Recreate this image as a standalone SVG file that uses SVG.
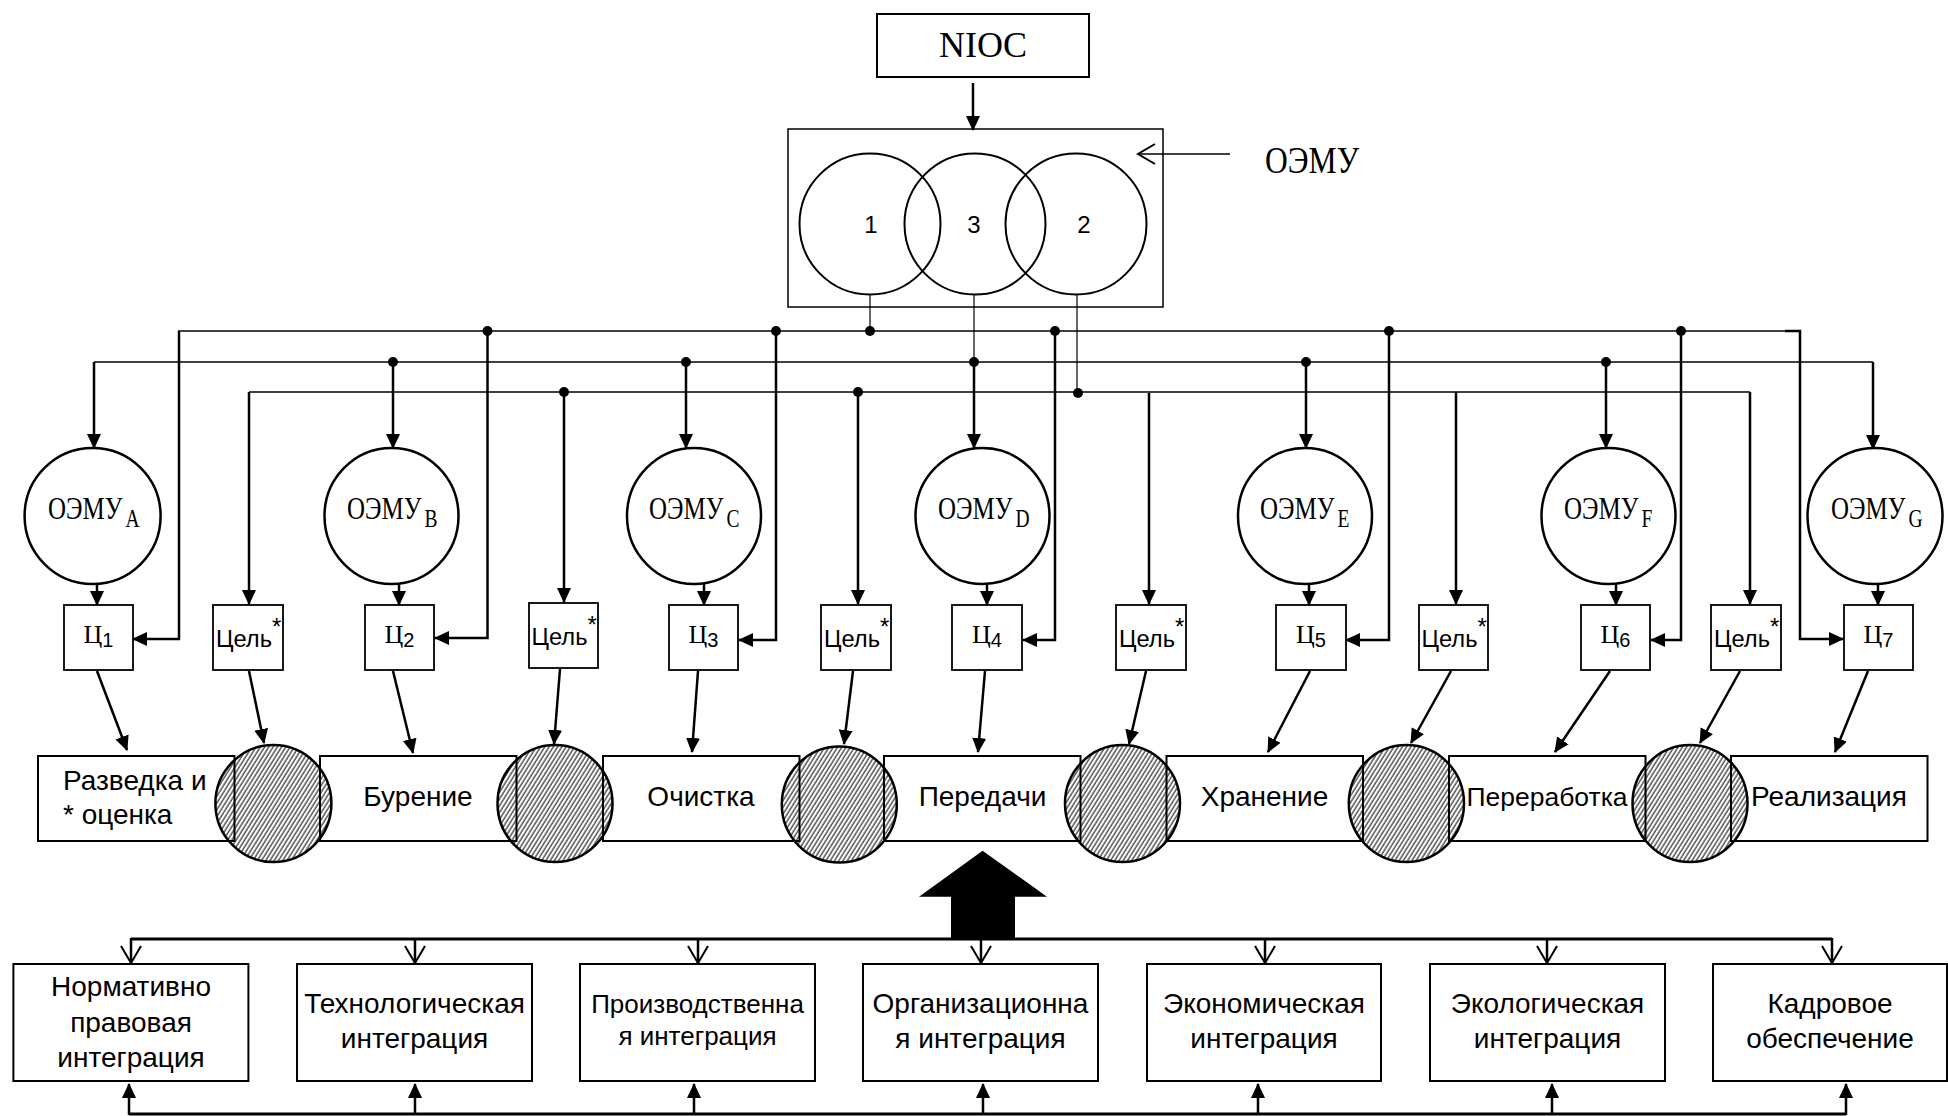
<svg xmlns="http://www.w3.org/2000/svg" width="1948" height="1116" viewBox="0 0 1948 1116">
<style>
.box{fill:#fff;stroke:#000;stroke-width:2}
.sbox{fill:#fff;stroke:#000;stroke-width:1.8}
.hair{fill:none;stroke:#000;stroke-width:1.2}
.thin{fill:none;stroke:#000;stroke-width:1.5}
.thk{fill:none;stroke:#000;stroke-width:2.5}
.bus{fill:none;stroke:#000;stroke-width:3}
.arr{marker-end:url(#ah)}
.varr{marker-end:url(#av)}
.serif{font-family:"Liberation Serif","Times New Roman",serif;fill:#000}
.sans{font-family:"Liberation Sans",Arial,sans-serif;fill:#000}
.dot{fill:#000}
.circ{fill:#fff;stroke:#000;stroke-width:2.5}
.hat{fill:url(#hatch);stroke:#000;stroke-width:2.5}
.oe{font-size:32px}
.sub{font-size:25px}
.c{font-size:26px}
.cs{font-size:20px;font-family:"Liberation Sans",Arial,sans-serif}
.cel{font-size:24px}
.ast{font-size:24px}
.st{font-size:28px}
.bt{font-size:28px}
</style>
<defs>
<marker id="ah" markerUnits="userSpaceOnUse" markerWidth="18" markerHeight="16" refX="14" refY="7" orient="auto"><path d="M0,0 L15,7 L0,14 Z" fill="#000"/></marker>
<marker id="av" markerUnits="userSpaceOnUse" markerWidth="22" markerHeight="24" refX="18" refY="11" orient="auto"><path d="M1,1 L18,11 L1,21" fill="none" stroke="#000" stroke-width="2"/></marker>
<pattern id="hatch" patternUnits="userSpaceOnUse" width="3.6" height="3.6" patternTransform="rotate(32)"><line x1="1" y1="-1" x2="1" y2="5" stroke="#000" stroke-width="1"/></pattern>
</defs>
<rect width="1948" height="1116" fill="#fff"/>

<g id="connectors">
  <path class="thk arr" d="M973,83 V130"/>
  <path class="thin varr" d="M1230,154 H1138"/>
  <path class="hair" d="M870,294 V331"/>
  <path class="hair" d="M974,294 V362"/>
  <path class="hair" d="M1077,294 V392"/>
  <path class="thin" d="M178,331 H1800"/>
  <path class="thin" d="M94,362 H1873"/>
  <path class="thin" d="M249,392 H1750"/>
  <path class="thk arr" d="M179,331 V639 H133"/>
  <path class="thk arr" d="M487.5,331 V638 H435"/>
  <path class="thk arr" d="M776,331 V640 H739"/>
  <path class="thk arr" d="M1055,331 V640 H1023"/>
  <path class="thk arr" d="M1389,331 V640 H1346"/>
  <path class="thk arr" d="M1681,331 V640 H1651"/>
  <path class="thk arr" d="M1785,331 H1800 V639 H1843"/>
  <path class="thk arr" d="M94,362 V448"/>
  <path class="thk arr" d="M393,362 V448"/>
  <path class="thk arr" d="M686,362 V448"/>
  <path class="thk arr" d="M974,362 V448"/>
  <path class="thk arr" d="M1306,362 V448"/>
  <path class="thk arr" d="M1606,362 V448"/>
  <path class="thk arr" d="M1873,362 V449"/>
  <path class="thk arr" d="M249,392 V604"/>
  <path class="thk arr" d="M564,392 V602"/>
  <path class="thk arr" d="M858,392 V604"/>
  <path class="thk arr" d="M1149,393 V604"/>
  <path class="thk arr" d="M1456,392 V604"/>
  <path class="thk arr" d="M1750,392 V604"/>
  <circle class="dot" cx="487.5" cy="331" r="5"/>
  <circle class="dot" cx="776" cy="331" r="5"/>
  <circle class="dot" cx="870" cy="331" r="5"/>
  <circle class="dot" cx="1055" cy="331" r="5"/>
  <circle class="dot" cx="1389" cy="331" r="5"/>
  <circle class="dot" cx="1681" cy="331" r="5"/>
  <circle class="dot" cx="393" cy="362" r="5"/>
  <circle class="dot" cx="686" cy="362" r="5"/>
  <circle class="dot" cx="974" cy="362" r="5"/>
  <circle class="dot" cx="1306" cy="362" r="5"/>
  <circle class="dot" cx="1606" cy="362" r="5"/>
  <circle class="dot" cx="564" cy="392" r="5"/>
  <circle class="dot" cx="858" cy="392" r="5"/>
  <circle class="dot" cx="1078" cy="393" r="5"/>
  <path class="thk arr" d="M97,578 V605"/>
  <path class="thk arr" d="M399,578 V605"/>
  <path class="thk arr" d="M704,578 V605"/>
  <path class="thk arr" d="M987,578 V605"/>
  <path class="thk arr" d="M1309,578 V605"/>
  <path class="thk arr" d="M1616,578 V605"/>
  <path class="thk arr" d="M1878,579 V605"/>
  <path class="thk arr" d="M97,671 L127,750"/>
  <path class="thk arr" d="M249,671 L264,743"/>
  <path class="thk arr" d="M393,671 L413,753"/>
  <path class="thk arr" d="M560,669 L554,744"/>
  <path class="thk arr" d="M698,671 L692,752"/>
  <path class="thk arr" d="M853,671 L844,744"/>
  <path class="thk arr" d="M985,671 L978,752"/>
  <path class="thk arr" d="M1146,671 L1129,744"/>
  <path class="thk arr" d="M1310,671 L1268,752"/>
  <path class="thk arr" d="M1451,671 L1411,743"/>
  <path class="thk arr" d="M1610,671 L1555,752"/>
  <path class="thk arr" d="M1740,671 L1700,743"/>
  <path class="thk arr" d="M1868,671 L1835,752"/>
  <path d="M982.6,850.7 L1047,896.7 L1015,896.7 L1015,939 L951,939 L951,896.7 L919,896.7 Z" fill="#000"/>
  <path class="bus" d="M131,939 H1832"/>
  <path class="thk varr" d="M131,938 V963"/>
  <path class="thk varr" d="M415,939 V963"/>
  <path class="thk varr" d="M698,939 V963"/>
  <path class="thk varr" d="M981,939 V963"/>
  <path class="thk varr" d="M1265,939 V963"/>
  <path class="thk varr" d="M1547,939 V963"/>
  <path class="thk varr" d="M1832,938 V963"/>
  <path class="bus" d="M129,1114 H1846"/>
  <path class="thk arr" d="M129,1115 V1084"/>
  <path class="thk arr" d="M415,1114 V1084"/>
  <path class="thk arr" d="M694,1114 V1084"/>
  <path class="thk arr" d="M983,1114 V1084"/>
  <path class="thk arr" d="M1258,1114 V1084"/>
  <path class="thk arr" d="M1552,1114 V1084"/>
  <path class="thk arr" d="M1846,1115 V1084"/>
</g>

<g id="nioc">
  <rect x="877" y="14" width="212" height="63" fill="#fff" stroke="#000" stroke-width="2"/>
  <text class="serif" x="983" y="57" font-size="36" text-anchor="middle">NIOC</text>
</g>
<g id="oemu">
  <rect x="788" y="129" width="375" height="178" fill="none" stroke="#000" stroke-width="1.5"/>
  <circle cx="870" cy="224" r="70.5" fill="none" stroke="#000" stroke-width="2"/>
  <circle cx="975" cy="224" r="70.5" fill="none" stroke="#000" stroke-width="2"/>
  <circle cx="1076" cy="224" r="70.5" fill="none" stroke="#000" stroke-width="2"/>
  <text class="sans" x="871" y="233" font-size="24" text-anchor="middle">1</text>
  <text class="sans" x="974" y="233" font-size="24" text-anchor="middle">3</text>
  <text class="sans" x="1084" y="233" font-size="24" text-anchor="middle">2</text>
</g>
<g id="oemu-label">
  <text class="serif" x="1265" y="173" font-size="37" textLength="94" lengthAdjust="spacingAndGlyphs">ОЭМУ</text>
</g>

<g id="oemu-a"><ellipse class="circ" cx="92.6" cy="516" rx="68" ry="68"/><text class="serif oe" transform="translate(48,519) scale(0.78,1)">ОЭМУ<tspan class="sub" dx="4" dy="8">A</tspan></text></g>
<g id="oemu-b"><ellipse class="circ" cx="391.5" cy="516" rx="67" ry="68"/><text class="serif oe" transform="translate(347,519) scale(0.78,1)">ОЭМУ<tspan class="sub" dx="4" dy="8">B</tspan></text></g>
<g id="oemu-c"><ellipse class="circ" cx="694" cy="516" rx="67" ry="68"/><text class="serif oe" transform="translate(649,519) scale(0.78,1)">ОЭМУ<tspan class="sub" dx="4" dy="8">C</tspan></text></g>
<g id="oemu-d"><ellipse class="circ" cx="982.5" cy="516" rx="67" ry="68"/><text class="serif oe" transform="translate(938,519) scale(0.78,1)">ОЭМУ<tspan class="sub" dx="4" dy="8">D</tspan></text></g>
<g id="oemu-e"><ellipse class="circ" cx="1305" cy="516" rx="67" ry="68"/><text class="serif oe" transform="translate(1260,519) scale(0.78,1)">ОЭМУ<tspan class="sub" dx="4" dy="8">E</tspan></text></g>
<g id="oemu-f"><ellipse class="circ" cx="1608.5" cy="516" rx="67" ry="68"/><text class="serif oe" transform="translate(1564,519) scale(0.78,1)">ОЭМУ<tspan class="sub" dx="4" dy="8">F</tspan></text></g>
<g id="oemu-g"><ellipse class="circ" cx="1875" cy="516" rx="67.5" ry="68"/><text class="serif oe" transform="translate(1831,519) scale(0.78,1)">ОЭМУ<tspan class="sub" dx="4" dy="8">G</tspan></text></g>

<g id="c1"><rect class="sbox" x="64" y="605" width="69" height="65"/><text class="serif c" x="98.5" y="643" text-anchor="middle">Ц<tspan class="cs" dy="4">1</tspan></text></g>
<g id="goal1"><rect class="sbox" x="213" y="605" width="70" height="65"/><text class="sans cel" x="216" y="647"><tspan textLength="56" lengthAdjust="spacingAndGlyphs">Цель</tspan><tspan class="ast" dy="-12">*</tspan></text></g>
<g id="c2"><rect class="sbox" x="365" y="605" width="69" height="65"/><text class="serif c" x="399.5" y="643" text-anchor="middle">Ц<tspan class="cs" dy="4">2</tspan></text></g>
<g id="goal2"><rect class="sbox" x="529" y="603" width="69" height="65"/><text class="sans cel" x="531.5" y="645"><tspan textLength="56" lengthAdjust="spacingAndGlyphs">Цель</tspan><tspan class="ast" dy="-12">*</tspan></text></g>
<g id="c3"><rect class="sbox" x="669" y="605" width="69" height="65"/><text class="serif c" x="703.5" y="643" text-anchor="middle">Ц<tspan class="cs" dy="4">3</tspan></text></g>
<g id="goal3"><rect class="sbox" x="821" y="605" width="70" height="65"/><text class="sans cel" x="824" y="647"><tspan textLength="56" lengthAdjust="spacingAndGlyphs">Цель</tspan><tspan class="ast" dy="-12">*</tspan></text></g>
<g id="c4"><rect class="sbox" x="952" y="605" width="70" height="65"/><text class="serif c" x="987" y="643" text-anchor="middle">Ц<tspan class="cs" dy="4">4</tspan></text></g>
<g id="goal4"><rect class="sbox" x="1116" y="605" width="70" height="65"/><text class="sans cel" x="1119" y="647"><tspan textLength="56" lengthAdjust="spacingAndGlyphs">Цель</tspan><tspan class="ast" dy="-12">*</tspan></text></g>
<g id="c5"><rect class="sbox" x="1276" y="605" width="70" height="65"/><text class="serif c" x="1311" y="643" text-anchor="middle">Ц<tspan class="cs" dy="4">5</tspan></text></g>
<g id="goal5"><rect class="sbox" x="1419" y="605" width="69" height="65"/><text class="sans cel" x="1421.5" y="647"><tspan textLength="56" lengthAdjust="spacingAndGlyphs">Цель</tspan><tspan class="ast" dy="-12">*</tspan></text></g>
<g id="c6"><rect class="sbox" x="1581" y="605" width="69" height="65"/><text class="serif c" x="1615.5" y="643" text-anchor="middle">Ц<tspan class="cs" dy="4">6</tspan></text></g>
<g id="goal6"><rect class="sbox" x="1711" y="605" width="70" height="65"/><text class="sans cel" x="1714" y="647"><tspan textLength="56" lengthAdjust="spacingAndGlyphs">Цель</tspan><tspan class="ast" dy="-12">*</tspan></text></g>
<g id="c7"><rect class="sbox" x="1844" y="605" width="69" height="65"/><text class="serif c" x="1878.5" y="643" text-anchor="middle">Ц<tspan class="cs" dy="4">7</tspan></text></g>

<g id="stage1"><rect class="box" x="38" y="756" width="196.5" height="85"/><text class="sans st" x="63" y="790">Разведка и</text><text class="sans st" x="63" y="824">* оценка</text></g>
<g id="stage2"><rect class="box" x="320" y="756" width="196.5" height="85"/><text class="sans st" x="418" y="806" text-anchor="middle">Бурение</text></g>
<g id="stage3"><rect class="box" x="603" y="756" width="196.5" height="85"/><text class="sans st" x="701" y="806" text-anchor="middle">Очистка</text></g>
<g id="stage4"><rect class="box" x="884" y="756" width="196.5" height="85"/><text class="sans st" x="982.5" y="806" text-anchor="middle">Передачи</text></g>
<g id="stage5"><rect class="box" x="1166.5" y="756" width="196.5" height="85"/><text class="sans st" x="1264.5" y="806" text-anchor="middle">Хранение</text></g>
<g id="stage6"><rect class="box" x="1449" y="756" width="196.5" height="85"/><text class="sans" x="1547" y="806" font-size="26.5" text-anchor="middle">Переработка</text></g>
<g id="stage7"><rect class="box" x="1731" y="756" width="196.5" height="85"/><text class="sans st" x="1829" y="806" text-anchor="middle">Реализация</text></g>

<g id="link1"><ellipse class="hat" cx="273.4" cy="803.5" rx="58" ry="58.5"/></g>
<g id="link2"><ellipse class="hat" cx="555" cy="803.5" rx="57.5" ry="58.5"/></g>
<g id="link3"><ellipse class="hat" cx="839.3" cy="804.5" rx="57.5" ry="58"/></g>
<g id="link4"><ellipse class="hat" cx="1122.5" cy="803.5" rx="57.5" ry="58.5"/></g>
<g id="link5"><ellipse class="hat" cx="1406.4" cy="803.5" rx="57.6" ry="58.5"/></g>
<g id="link6"><ellipse class="hat" cx="1690" cy="803.5" rx="57.5" ry="58.5"/></g>

<g id="int1"><rect class="box" x="13.4" y="964" width="235" height="117"/><text class="sans bt" x="131" y="996" text-anchor="middle">Нормативно</text><text class="sans bt" x="131" y="1031.5" text-anchor="middle">правовая</text><text class="sans bt" x="131" y="1066.5" text-anchor="middle">интеграция</text></g>
<g id="int2"><rect class="box" x="297" y="964" width="235" height="117"/><text class="sans bt" x="414.5" y="1013" text-anchor="middle">Технологическая</text><text class="sans bt" x="414.5" y="1048" text-anchor="middle">интеграция</text></g>
<g id="int3"><rect class="box" x="580" y="964" width="235" height="117"/><text class="sans" x="697.5" y="1013" font-size="26" text-anchor="middle">Производственна</text><text class="sans" x="697.5" y="1045" font-size="26" text-anchor="middle">я интеграция</text></g>
<g id="int4"><rect class="box" x="863" y="964" width="235" height="117"/><text class="sans bt" x="980.5" y="1013" text-anchor="middle">Организационна</text><text class="sans bt" x="980.5" y="1048" text-anchor="middle">я интеграция</text></g>
<g id="int5"><rect class="box" x="1147" y="964" width="234" height="117"/><text class="sans bt" x="1264" y="1013" text-anchor="middle">Экономическая</text><text class="sans bt" x="1264" y="1048" text-anchor="middle">интеграция</text></g>
<g id="int6"><rect class="box" x="1430" y="964" width="235" height="117"/><text class="sans bt" x="1547.5" y="1013" text-anchor="middle">Экологическая</text><text class="sans bt" x="1547.5" y="1048" text-anchor="middle">интеграция</text></g>
<g id="int7"><rect class="box" x="1713" y="964" width="234" height="117"/><text class="sans bt" x="1830" y="1013" text-anchor="middle">Кадровое</text><text class="sans bt" x="1830" y="1048" text-anchor="middle">обеспечение</text></g>
</svg>
